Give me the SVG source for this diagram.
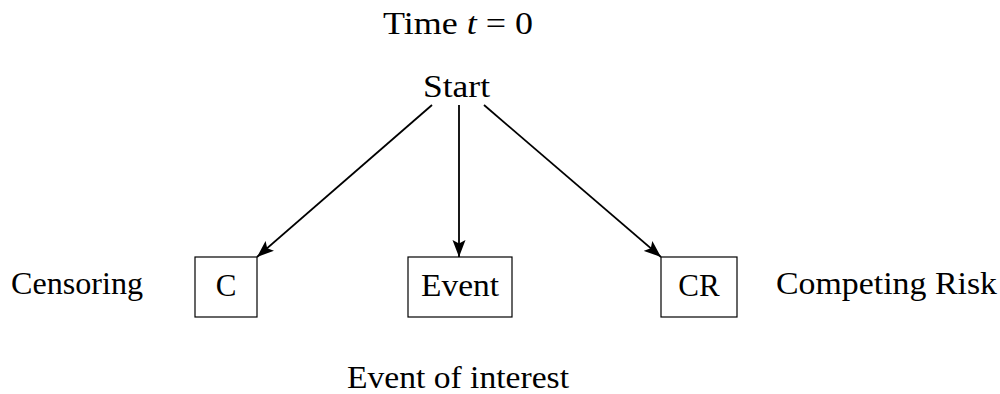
<svg xmlns="http://www.w3.org/2000/svg" width="1000" height="394" viewBox="0 0 1000 394">
<style>
text{font-family:"Liberation Serif","Times New Roman",serif;font-size:31px;fill:#000}
.box{fill:#fff;stroke:#000;stroke-width:1.2}
.conn{stroke:#000;stroke-width:1.8;fill:none}
</style>
<defs>
<marker id="ah" markerUnits="userSpaceOnUse" markerWidth="18" markerHeight="14" refX="17" refY="7" orient="auto">
<path d="M0,0.5 L17,7 L0,13.5 L3.5,7 Z" fill="#000"/>
</marker>
</defs>
<rect width="1000" height="394" fill="#fff"/>
<g id="time"><text x="383" y="34" textLength="150" lengthAdjust="spacingAndGlyphs">Time <tspan font-style="italic">t</tspan> = 0</text></g>
<g id="start"><text x="423" y="97" textLength="67" lengthAdjust="spacingAndGlyphs">Start</text></g>
<g id="connectors">
<line class="conn" x1="432" y1="105" x2="257" y2="257" marker-end="url(#ah)"/>
<line class="conn" x1="459" y1="105" x2="459" y2="257" marker-end="url(#ah)"/>
<line class="conn" x1="484" y1="105" x2="661" y2="257" marker-end="url(#ah)"/>
</g>
<g id="C"><rect class="box" x="195" y="257" width="62" height="60"/><text x="226" y="296" text-anchor="middle">C</text></g>
<g id="Event"><rect class="box" x="408" y="257" width="104" height="60"/><text x="460" y="296" text-anchor="middle" textLength="78" lengthAdjust="spacingAndGlyphs">Event</text></g>
<g id="CR"><rect class="box" x="661" y="257" width="76" height="60"/><text x="699" y="296" text-anchor="middle">CR</text></g>
<g id="censoring"><text x="11" y="294" textLength="132" lengthAdjust="spacingAndGlyphs">Censoring</text></g>
<g id="competing"><text x="776" y="294" textLength="221" lengthAdjust="spacingAndGlyphs">Competing Risk</text></g>
<g id="interest"><text x="347" y="388" textLength="222" lengthAdjust="spacingAndGlyphs">Event of interest</text></g>
</svg>
